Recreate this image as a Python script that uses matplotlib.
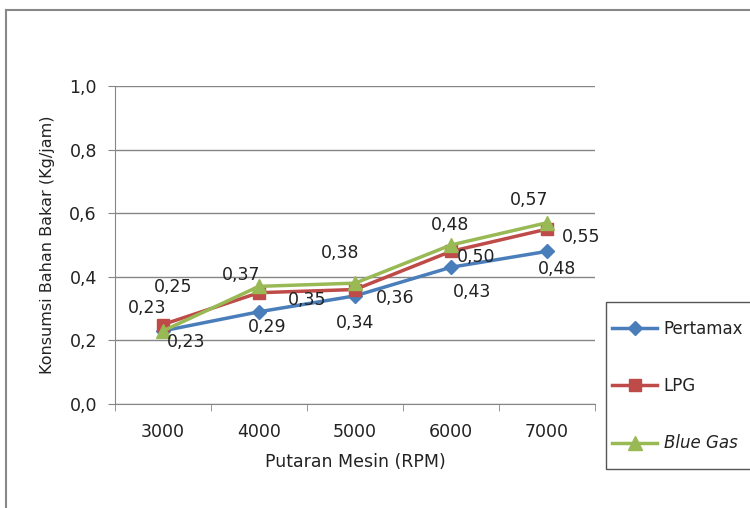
import matplotlib.pyplot as plt
from matplotlib.lines import Line2D
from matplotlib.patches import Rectangle
from matplotlib.ticker import FuncFormatter, FixedLocator
import numpy as np

# data
rpm = ['3000', '4000', '5000', '6000', '7000']
pertamax = [0.23, 0.29, 0.34, 0.43, 0.48]
lpg = [0.25, 0.35, 0.36, 0.48, 0.55]
blue_gas = [0.23, 0.37, 0.38, 0.50, 0.57]

# label offsets (pixels) for each series
off_pertamax = [(23, -11), (8, -15), (0, -27), (21, -25), (10, -18)]
off_lpg = [(10, 37), (48, -7), (40, -8), (-1, 26), (34, -8)]
off_blue = [(-16, 23), (-18, 11), (-15, 30), (25, -12), (-18, 23)]

plt.rcParams['font.family'] = ['DejaVu Sans']
fs = 12.5

fig = plt.figure(figsize=(7.5, 5.08), dpi=100)
ax = fig.add_axes([115 / 750, 1 - 404 / 508, 480 / 750, 318 / 508])

x = np.arange(len(rpm))
series = [
    ('Pertamax', pertamax, '#4A7EBB', 'D', 7, off_pertamax),
    ('LPG', lpg, '#BE4B48', 's', 9, off_lpg),
    ('Blue Gas', blue_gas, '#98B954', '^', 10, off_blue),
]
for name, vals, col, mk, ms, offs in series:
    ax.plot(x, vals, color=col, marker=mk, markersize=ms, lw=2.5, label=name)
    for xi, v, (dx, dy) in zip(x, vals, offs):
        ax.annotate(f'{v:.2f}'.replace('.', ','), (xi, v), xytext=(dx, dy),
                    textcoords='offset pixels', ha='center', va='center',
                    fontsize=fs, color='#222222')

ax.set_xlim(-0.5, len(rpm) - 0.5)
ax.set_ylim(0, 1.0)
ax.set_xticks(x)
ax.set_xticklabels(rpm)
ax.xaxis.set_minor_locator(FixedLocator(np.arange(-0.5, len(rpm), 1.0)))
ax.tick_params(axis='x', which='major', length=0, pad=14, labelsize=fs, labelcolor='#222222')
ax.tick_params(axis='x', which='minor', length=5, color='#868686')
ax.set_yticks(np.arange(0, 1.01, 0.2))
ax.yaxis.set_major_formatter(FuncFormatter(lambda v, p: f'{v:.1f}'.replace('.', ',')))
ax.tick_params(axis='y', length=5, color='#868686', pad=8, labelsize=fs, labelcolor='#222222')
ax.grid(axis='y', color='#868686', lw=1)
ax.set_axisbelow(True)
for s in ['top', 'right']:
    ax.spines[s].set_visible(False)
for s in ['left', 'bottom']:
    ax.spines[s].set_color('#868686')

ax.set_xlabel('Putaran Mesin (RPM)', fontsize=fs, labelpad=8, color='#222222')
ax.set_ylabel('Konsumsi Bahan Bakar (Kg/jam)', fontsize=11.5, labelpad=10, color='#222222')

# legend without its own frame, the box is drawn separately
leg = fig.legend(loc='upper left', bbox_to_anchor=(612 / 750, 1 - 320 / 508),
                 fontsize=12, frameon=False,
                 labelspacing=2.35, handlelength=2.7, borderpad=0,
                 handletextpad=0.4, borderaxespad=0)
for t in leg.get_texts():
    t.set_color('#222222')
leg.get_texts()[2].set_style('italic')
fig.add_artist(Rectangle((606 / 750, 1 - 469 / 508), 0.3, 167 / 508,
                         transform=fig.transFigure, fill=False,
                         edgecolor='#555555', lw=1, clip_on=False))

# outer chart border (only left and top visible in the crop)
fig.add_artist(Line2D([6 / 750, 6 / 750], [0, 1 - 10 / 508], color='#888888', lw=1.5))
fig.add_artist(Line2D([6 / 750, 1], [1 - 10 / 508, 1 - 10 / 508], color='#888888', lw=1.5))

fig.savefig('out.png', dpi=100)
